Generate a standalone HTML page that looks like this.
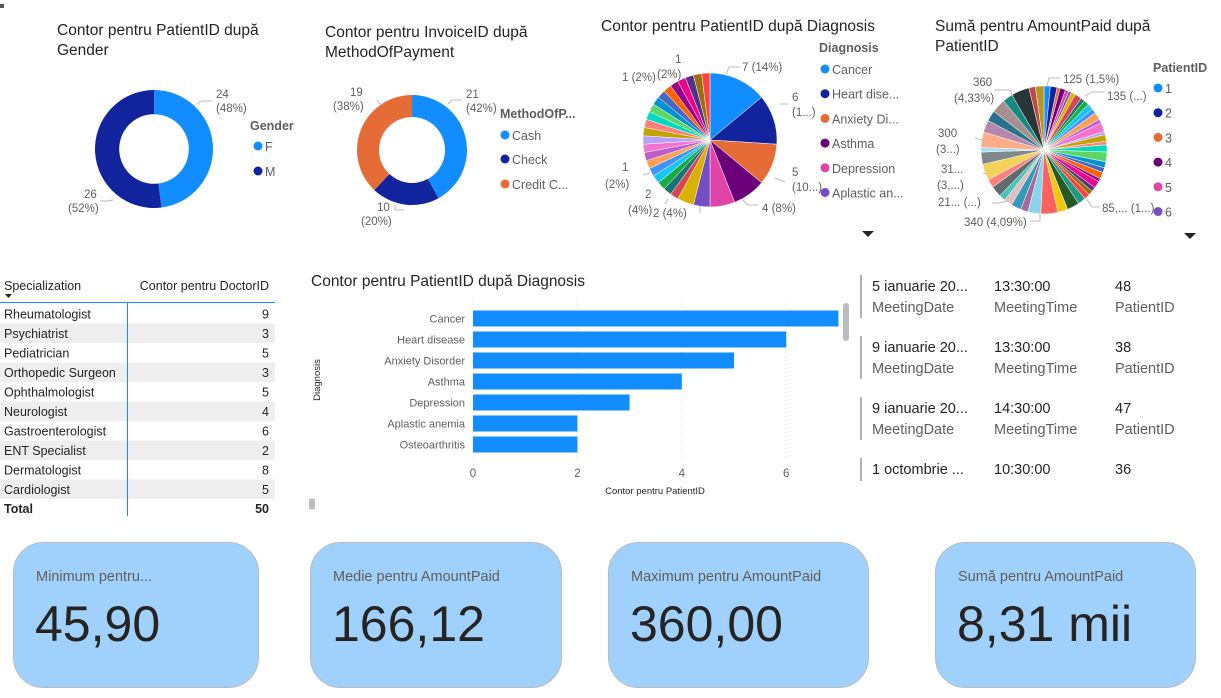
<!DOCTYPE html>
<html><head><meta charset="utf-8">
<style>
body{margin:0;background:#fff;width:1221px;height:693px;overflow:hidden;font-family:"Liberation Sans",sans-serif;}
svg text{font-family:"Liberation Sans",sans-serif;}
.t{font-size:15.5px;fill:#252423}
.lbl{font-size:11.5px;fill:#605e5c}
.lg{font-size:12.5px;fill:#605e5c}
.lgt{font-size:12.5px;fill:#605e5c;font-weight:bold}
.cell{font-size:12.5px;fill:#252423}
.mv{font-size:14.5px;fill:#252423}
.mk{font-size:14.5px;fill:#605e5c}
.ct{font-size:14.5px;fill:#605e5c}
.cv{font-size:50px;fill:#252423}
</style></head><body>
<svg id="dash" width="1221" height="693" viewBox="0 0 1221 693">
<rect x="0" y="0" width="1221" height="693" fill="#fff"/>
<rect x="0" y="4" width="4" height="4" fill="#555"/>

<!-- Titles -->
<text class="t" x="57" y="35">Contor pentru PatientID după</text>
<text class="t" x="57" y="55">Gender</text>
<text class="t" x="325" y="37">Contor pentru InvoiceID după</text>
<text class="t" x="325" y="57">MethodOfPayment</text>
<text class="t" x="601" y="31">Contor pentru PatientID după Diagnosis</text>
<text class="t" x="935" y="31">Sumă pentru AmountPaid după</text>
<text class="t" x="935" y="51">PatientID</text>

<g id="g-gender"></g>
<g id="g-pay"></g>
<g id="g-diag"></g>
<g id="g-amt"></g>

<!-- donut labels -->
<g>
<text class="lbl" x="216" y="98">24</text><text class="lbl" x="216" y="112">(48%)</text>
<text class="lbl" x="84" y="198">26</text><text class="lbl" x="68" y="212">(52%)</text>
</g>
<path d="M197,104 L202,101 L212,101 M113,200 L108,201 L100,201" stroke="#bbb" fill="none"/>
<text class="lgt" x="250" y="130">Gender</text>
<circle cx="258" cy="146" r="4.5" fill="#118DFF"/><text class="lg" x="265" y="151">F</text>
<circle cx="258" cy="171" r="4.5" fill="#12239E"/><text class="lg" x="265" y="176">M</text>

<text class="lbl" x="466" y="98">21</text><text class="lbl" x="466" y="112">(42%)</text>
<text class="lbl" x="350" y="96">19</text><text class="lbl" x="333" y="110">(38%)</text>
<text class="lbl" x="377" y="211">10</text><text class="lbl" x="361" y="225">(20%)</text>
<path d="M448,104 L452,100 L462,100 M377,100 L380,104 L383,104 M395,205 L395,210 L404,210" stroke="#bbb" fill="none"/>
<text class="lgt" x="500" y="118">MethodOfP...</text>
<circle cx="505" cy="135" r="4.5" fill="#118DFF"/><text class="lg" x="512" y="140">Cash</text>
<circle cx="505" cy="159" r="4.5" fill="#12239E"/><text class="lg" x="512" y="164">Check</text>
<circle cx="505" cy="184" r="4.5" fill="#E66C37"/><text class="lg" x="512" y="189">Credit C...</text>

<!-- diagnosis pie labels -->
<g>
<text class="lbl" x="742" y="71">7 (14%)</text>
<text class="lbl" x="792" y="101">6</text><text class="lbl" x="792" y="116">(1...)</text>
<text class="lbl" x="792" y="176">5</text><text class="lbl" x="792" y="191">(10...)</text>
<text class="lbl" x="762" y="212">4 (8%)</text>
<text class="lbl" x="653" y="217">2 (4%)</text>
<text class="lbl" x="645" y="198">2</text><text class="lbl" x="628" y="214">(4%)</text>
<text class="lbl" x="622" y="171">1</text><text class="lbl" x="605" y="188">(2%)</text>
<text class="lbl" x="622" y="81">1 (2%)</text><text class="lbl" x="657" y="78">(2%)</text>
<text class="lbl" x="675" y="63">1</text>
</g>
<path d="M726,74 L729,67 L740,67 M780,104 L788,104 M775,178 L785,182 M742,199 L748,205 L758,205 M700,206 L700,213 M668,199 L665,204 M650,173 L643,175" stroke="#bbb" fill="none"/>
<text class="lgt" x="819" y="52">Diagnosis</text>
<g id="diag-legend"></g>
<path d="M862,231 L874,231 L868,237 Z" fill="#252423"/>

<!-- amount pie labels -->
<g>
<text class="lbl" x="1063" y="83">125 (1,5%)</text>
<text class="lbl" x="1107" y="100">135 (...)</text>
<text class="lbl" x="973" y="86">360</text><text class="lbl" x="954" y="102">(4,33%)</text>
<text class="lbl" x="938" y="137">300</text><text class="lbl" x="936" y="153">(3...)</text>
<text class="lbl" x="941" y="173">31...</text><text class="lbl" x="937" y="189">(3,...)</text>
<text class="lbl" x="938" y="206">21... (...)</text>
<text class="lbl" x="964" y="226">340 (4,09%)</text>
<text class="lbl" x="1102" y="212">85,... (1...)</text>
</g>
<path d="M1047,86 L1049,78 L1060,78 M1085,96 L1092,92 L1104,92 M994,90 L1010,90 L1013,96 M975,138 L985,141 M983,174 L986,173 M1007,201 L999,203 L992,203 M1040,214 L1040,221 L1030,221 M1086,198 L1092,207 L1100,207" stroke="#bbb" fill="none"/>
<text class="lgt" x="1153" y="72">PatientID</text>
<g id="amt-legend"></g>
<path d="M1184,233 L1196,233 L1190,239 Z" fill="#252423"/>

<!-- Table -->
<g id="table">
<text class="cell" x="4" y="290">Specialization</text>
<path d="M5,294 L12,294 L8.5,298 Z" fill="#252423"/>
<text class="cell" x="269" y="290" text-anchor="end">Contor pentru DoctorID</text>
<line x1="0" y1="302.5" x2="275" y2="302.5" stroke="#118DFF" stroke-width="1"/>
</g>

<!-- Bar chart -->
<text class="t" x="311" y="286">Contor pentru PatientID după Diagnosis</text>
<g id="bars"></g>
<rect x="843" y="303" width="6" height="38" rx="3" fill="#bcbcbc"/>
<rect x="309" y="499" width="6" height="10" fill="#bcbcbc"/>

<!-- Meetings list -->
<g id="meetings"></g>

<!-- Cards -->
<g id="cards"></g>
</svg>

<script>
// ---- data ----
const genderCats = ["F","M"];
const genderVals = [24,26];
const payCats = ["Cash","Check","Credit Card"];
const payVals = [21,10,19];
const diagCats = ["Cancer","Heart disease","Anxiety Disorder","Asthma","Depression","Aplastic anemia","Osteoarthritis","Other1","Other2","Other3","Other4","Other5","Other6","Other7","Other8","Other9","Other10","Other11","Other12","Other13","Other14","Other15","Other16","Other17","Other18","Other19","Other20","Other21"];
const diagVals = [7,6,5,4,3,2,2,1,1,1,1,1,1,1,1,1,1,1,1,1,1,1,1,1,1,1,1,1];
const diagLegend = ["Cancer","Heart dise...","Anxiety Di...","Asthma","Depression","Aplastic an..."];
const barCats = ["Cancer","Heart disease","Anxiety Disorder","Asthma","Depression","Aplastic anemia","Osteoarthritis"];
const barVals = [7,6,5,4,3,2,2];
const barTicks = [0,2,4,6];
const amtVals = [125,135,60,110,70,55,90,135,80,100,120,95,150,75,180,60,130,70,140,190,120,95,130,65,140,85,90,110,160,240,200,340,255,150,200,160,130,215,170,315,240,90,300,240,210,280,200,360,130,170];
const patientLegend = ["1","2","3","4","5","6"];
const specCats = ["Rheumatologist","Psychiatrist","Pediatrician","Orthopedic Surgeon","Ophthalmologist","Neurologist","Gastroenterologist","ENT Specialist","Dermatologist","Cardiologist"];
const specVals = [9,3,5,3,5,4,6,2,8,5];
const meetDates = ["5 ianuarie 20...","9 ianuarie 20...","9 ianuarie 20...","1 octombrie ..."];
const meetTimes = ["13:30:00","13:30:00","14:30:00","10:30:00"];
const meetPatients = ["48","38","47","36"];
const cardTitles = ["Minimum pentru...","Medie pentru AmountPaid","Maximum pentru AmountPaid","Sumă pentru AmountPaid"];
const cardValues = ["45,90","166,12","360,00","8,31 mii"];

const palette = ["#118DFF","#12239E","#E66C37","#6B007B","#E044A7","#744EC2","#D9B300","#D64550","#197278","#1AAB40","#15C6F4","#4092FF","#FFA058","#BE5DC9","#F472D0","#B5A1FF","#C4A200","#FF8080","#00DBBC","#5BD667","#0091D5","#4668C5","#FF6300","#99008A","#EC008C","#533285","#99700A","#FF4141","#1F9A85","#255A26","#F2C80F","#FD625E","#8AD4EB","#A66999","#3599B8","#DFBFBF","#4AC5BB","#5F6B6D","#FB8281","#F4D25A","#7F898A","#A4DDEE","#FDAB89","#B687AC","#28738A","#A78F8F","#168980","#293537","#BB4A4A","#B59525"];
const NS="http://www.w3.org/2000/svg";
function mk(tag,attrs,parent){const e=document.createElementNS(NS,tag);for(const k in attrs)e.setAttribute(k,attrs[k]);parent.appendChild(e);return e;}

function arcPath(cx,cy,rx,ry,ir,a0,a1){
  const p=(a,r)=>[cx+rx*r*Math.sin(a),cy-ry*r*Math.cos(a)];
  const lg=(a1-a0)>Math.PI?1:0;
  const [x0,y0]=p(a0,1),[x1,y1]=p(a1,1);
  if(ir<=0) return `M${cx},${cy} L${x0},${y0} A${rx},${ry} 0 ${lg} 1 ${x1},${y1} Z`;
  const [x2,y2]=p(a1,ir),[x3,y3]=p(a0,ir);
  return `M${x0},${y0} A${rx},${ry} 0 ${lg} 1 ${x1},${y1} L${x2},${y2} A${rx*ir},${ry*ir} 0 ${lg} 0 ${x3},${y3} Z`;
}
function drawPie(gid,vals,cx,cy,rx,ry,ir,cols,nm,stroke){
  const g=document.getElementById(gid);
  const tot=vals.reduce((a,b)=>a+b,0);let a=0;
  vals.forEach((v,i)=>{
    const a1=a+v/tot*2*Math.PI;
    const p=mk('path',{d:arcPath(cx,cy,rx,ry,ir,a,a1),fill:cols[i%cols.length],stroke:stroke,'stroke-width':stroke==='none'?0:0.5},g);
    
    
    a=a1;
  });
}
drawPie('g-gender',genderVals,154,149,59,59,0.59,["#118DFF","#12239E"],'gender','none');
drawPie('g-pay',payVals,412,150,55,55,0.6,["#118DFF","#12239E","#E66C37"],'payment','none');
drawPie('g-diag',diagVals,710,140,67,67,0,palette,'diagnosis','#fff');
drawPie('g-amt',amtVals,1044,150,63,64,0,palette,'patient','#fff');

// legends
(function(){
  const g=document.getElementById('diag-legend');
  diagLegend.forEach((t,i)=>{
    const y=69+i*24.7;
    mk('circle',{cx:825,cy:y,r:4.5,fill:palette[i]},g);
    const tx=mk('text',{x:832,y:y+5,class:'lg'},g);tx.textContent=t;
    
    
  });
  const g2=document.getElementById('amt-legend');
  patientLegend.forEach((t,i)=>{
    const y=88+i*24.7;
    mk('circle',{cx:1158,cy:y,r:4.5,fill:palette[i]},g2);
    const tx=mk('text',{x:1165,y:y+5,class:'lg'},g2);tx.textContent=t;
    
    
  });
})();

// table
(function(){
  const g=document.getElementById('table');
  const top=304,rh=19.5;
  specCats.forEach((c,i)=>{
    const y=top+i*rh;
    if(i%2===1) mk('rect',{x:0,y:y,width:275,height:rh,fill:'#eeeeee'},g);
    const t=mk('text',{x:4,y:y+14.5,class:'cell'},g);t.textContent=c;
    
    
    const v=mk('text',{x:269,y:y+14.5,class:'cell','text-anchor':'end'},g);v.textContent=specVals[i];
    
    
  });
  const ty=top+specCats.length*rh;
  const tl=mk('text',{x:4,y:ty+14,class:'cell','font-weight':'bold'},g);tl.textContent='Total';
  
  
  const tv=mk('text',{x:269,y:ty+14,class:'cell','font-weight':'bold','text-anchor':'end'},g);tv.textContent=specVals.reduce((a,b)=>a+b,0);
  
  
  mk('line',{x1:127.5,y1:303,x2:127.5,y2:516,stroke:'#118DFF','stroke-width':1},g);
})();

// bar chart
(function(){
  const g=document.getElementById('bars');
  const x0=473,ux=52.2,y0=308,rh=21,bh=16;
  const X=v=>x0+v*ux;
  barTicks.forEach(t=>{
    mk('line',{x1:X(t),y1:300,x2:X(t),y2:458,stroke:'#ddd','stroke-dasharray':'1,3'},g);
    const tx=mk('text',{x:X(t),y:477,'font-size':'11.5px',fill:'#605e5c','text-anchor':'middle'},g);tx.textContent=t;
    
    
  });
  barCats.forEach((c,i)=>{
    const y=y0+i*rh;
    const r=mk('rect',{x:X(0),y:y+(rh-bh)/2,width:X(barVals[i])-X(0),height:bh,fill:'#118DFF'},g);
    
    
    const t=mk('text',{x:465,y:y+rh/2+4,'font-size':'11px',fill:'#605e5c','text-anchor':'end'},g);t.textContent=c;
    
    
  });
  const xt=mk('text',{x:655,y:494,'font-size':'9.5px',fill:'#252423','text-anchor':'middle'},g);xt.textContent='Contor pentru PatientID';
  
  
  const yt=mk('text',{x:0,y:0,'font-size':'9.5px',fill:'#252423','text-anchor':'middle',transform:'translate(320,380) rotate(-90)'},g);yt.textContent='Diagnosis';
  
  
})();

// meetings
(function(){
  const g=document.getElementById('meetings');
  const tops=[275,336,397,458];
  meetDates.forEach((d,i)=>{
    const y=tops[i];
    const last=i===meetDates.length-1;
    mk('rect',{x:860,y:y,width:2,height:last?23:43,fill:'#b3b0ad'},g);
    const vals=[d,meetTimes[i],meetPatients[i]],keys=["MeetingDate","MeetingTime","PatientID"],xs=[872,994,1115];
    vals.forEach((v,j)=>{
      const t=mk('text',{x:xs[j],y:y+16,class:'mv'},g);t.textContent=v;
      
      
      if(!last){const k=mk('text',{x:xs[j],y:y+37,class:'mk'},g);k.textContent=keys[j];
      
      }
    });
  });
})();

// cards
(function(){
  const g=document.getElementById('cards');
  const xs=[13,310,608,935],ws=[245,251,260,260];
  cardTitles.forEach((t,i)=>{
    const r=mk('rect',{x:xs[i]+0.5,y:542.5,width:ws[i],height:145,rx:30,ry:30,fill:'#A0D1FC',stroke:'#b8bcc0','stroke-width':1},g);
    
    
    const tt=mk('text',{x:xs[i]+23,y:581,class:'ct'},g);tt.textContent=t;
    
    
    const tv=mk('text',{x:xs[i]+22,y:641,class:'cv'},g);tv.textContent=cardValues[i];
    
    
  });
})();
</script>
</body></html>
